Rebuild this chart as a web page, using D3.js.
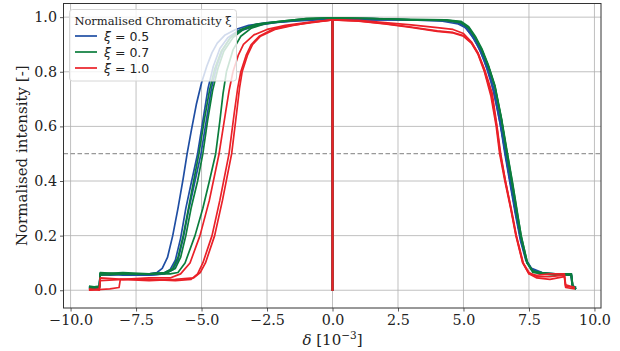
<!DOCTYPE html>
<html><head><meta charset="utf-8">
<script src="https://cdn.jsdelivr.net/npm/d3@7"></script>
<style>
body{margin:0;background:#fff;}
svg{display:block;}
</style></head>
<body>
<svg id="chart" width="620" height="351"></svg>
<script>
// ---- Data ----
const xTicks = [-10, -7.5, -5, -2.5, 0, 2.5, 5, 7.5, 10];
const yTicks = [0, 0.2, 0.4, 0.6, 0.8, 1.0];
const seriesNames = ["ξ = 0.5", "ξ = 0.7", "ξ = 1.0"];
const seriesColors = ["#1f4ea3", "#0b7d3c", "#ea2128"];
const halfLevel = 0.5;

// xi = 0.5 runs
const blueRun1 = [[-9.3,0.012],[-9.0,0.005],[-8.9,0.015],[-8.87,0.06],[-8.5,0.055],[-8.0,0.06],[-7.5,0.055],[-7.0,0.06],[-6.7,0.065],[-6.5,0.08],[-6.3,0.12],[-6.1,0.2],[-5.9,0.3],[-5.7,0.41],[-5.55,0.5],[-5.4,0.58],[-5.2,0.68],[-5.0,0.76],[-4.8,0.82],[-4.6,0.87],[-4.4,0.905],[-4.1,0.935],[-3.7,0.955],[-3.2,0.97],[-2.5,0.98],[-1.5,0.985],[-0.6,0.99],[-0.003,0.995],[0,0.0],[0.003,0.99],[1,0.99],[2,0.99],[3,0.99],[4,0.99],[4.6,0.985],[5.0,0.97],[5.3,0.935],[5.55,0.895],[5.8,0.84],[6.05,0.77],[6.3,0.66],[6.5,0.56],[6.6,0.5],[6.8,0.39],[7.0,0.28],[7.2,0.18],[7.4,0.11],[7.6,0.075],[7.9,0.06],[8.3,0.06],[8.8,0.055],[9.1,0.055],[9.15,0.02],[9.3,0.005]];
const blueRun2 = [[-9.3,0.005],[-8.9,0.01],[-8.87,0.06],[-8.0,0.055],[-7.0,0.055],[-6.5,0.06],[-6.2,0.075],[-6.0,0.11],[-5.8,0.19],[-5.6,0.3],[-5.4,0.39],[-5.15,0.5],[-4.95,0.62],[-4.75,0.74],[-4.55,0.82],[-4.3,0.885],[-4.0,0.925],[-3.6,0.95],[-3.0,0.97],[-2.3,0.98],[-1.2,0.99],[-0.003,0.995],[0,0.0],[0.003,0.995],[1.5,0.995],[3,0.99],[4.2,0.99],[4.8,0.98],[5.1,0.965],[5.4,0.925],[5.65,0.88],[5.9,0.82],[6.15,0.74],[6.4,0.62],[6.6,0.5],[6.8,0.39],[7.0,0.28],[7.2,0.18],[7.4,0.11],[7.6,0.08],[8.0,0.065],[8.5,0.06],[9.0,0.06],[9.12,0.055],[9.17,0.015],[9.3,0.01]];
const blueRun3 = [[-9.3,0.01],[-8.9,0.012],[-8.87,0.055],[-8.0,0.06],[-7.0,0.055],[-6.4,0.06],[-6.1,0.075],[-5.9,0.11],[-5.7,0.19],[-5.5,0.29],[-5.25,0.4],[-5.02,0.5],[-4.82,0.62],[-4.62,0.74],[-4.42,0.82],[-4.2,0.88],[-3.9,0.925],[-3.5,0.95],[-2.9,0.97],[-2.2,0.98],[-1.1,0.99],[-0.003,0.995],[0,0.0],[0.003,0.995],[1.5,0.99],[3,0.99],[4.2,0.985],[4.8,0.975],[5.1,0.96],[5.4,0.92],[5.65,0.875],[5.9,0.81],[6.15,0.73],[6.4,0.61],[6.58,0.5],[6.78,0.39],[6.98,0.28],[7.18,0.18],[7.38,0.11],[7.6,0.075],[8.0,0.06],[8.5,0.06],[9.0,0.055],[9.12,0.06],[9.17,0.01],[9.3,0.005]];

// xi = 0.7 runs
const greenRun1 = [[-9.3,0.015],[-8.9,0.01],[-8.87,0.065],[-8.0,0.06],[-7.0,0.06],[-6.4,0.065],[-6.1,0.08],[-5.9,0.12],[-5.7,0.2],[-5.5,0.3],[-5.3,0.4],[-5.1,0.5],[-4.9,0.62],[-4.7,0.73],[-4.5,0.81],[-4.25,0.875],[-3.9,0.925],[-3.5,0.955],[-2.9,0.975],[-2.0,0.985],[-1.0,0.995],[-0.003,0.997],[0,0.0],[0.003,0.997],[1.5,0.995],[3,0.99],[4.3,0.99],[4.9,0.985],[5.2,0.965],[5.45,0.93],[5.7,0.885],[5.95,0.825],[6.2,0.75],[6.45,0.63],[6.68,0.5],[6.88,0.39],[7.05,0.29],[7.2,0.2],[7.44,0.1],[7.65,0.07],[8.0,0.06],[8.5,0.055],[9.0,0.06],[9.12,0.06],[9.18,0.01],[9.3,0.005]];
const greenRun2 = [[-9.3,0.01],[-8.9,0.015],[-8.87,0.06],[-8.0,0.065],[-7.0,0.06],[-6.3,0.065],[-6.0,0.08],[-5.8,0.12],[-5.6,0.2],[-5.4,0.3],[-5.15,0.4],[-4.95,0.5],[-4.77,0.62],[-4.58,0.73],[-4.38,0.81],[-4.15,0.875],[-3.8,0.925],[-3.4,0.955],[-2.8,0.975],[-2.0,0.985],[-1.0,0.995],[-0.003,0.997],[0,0.0],[0.003,0.997],[1.5,0.995],[3,0.992],[4.3,0.99],[4.9,0.982],[5.2,0.96],[5.45,0.925],[5.7,0.88],[5.95,0.82],[6.2,0.745],[6.45,0.625],[6.65,0.5],[6.85,0.39],[7.02,0.29],[7.18,0.2],[7.42,0.1],[7.65,0.07],[8.0,0.065],[8.5,0.06],[9.0,0.055],[9.1,0.06],[9.16,0.015],[9.3,0.01]];
const greenRun3 = [[-9.3,0.005],[-8.9,0.01],[-8.87,0.055],[-8.0,0.06],[-7.0,0.06],[-6.2,0.06],[-5.9,0.065],[-5.63,0.1],[-5.25,0.2],[-4.95,0.3],[-4.7,0.4],[-4.46,0.5],[-4.3,0.62],[-4.18,0.72],[-4.05,0.8],[-3.8,0.88],[-3.5,0.93],[-3.1,0.96],[-2.6,0.975],[-1.8,0.985],[-0.9,0.993],[-0.003,0.997],[0,0.0],[0.003,0.997],[1.5,0.995],[3,0.99],[4.3,0.988],[4.9,0.98],[5.2,0.96],[5.45,0.925],[5.7,0.88],[5.95,0.82],[6.2,0.745],[6.45,0.625],[6.67,0.5],[6.87,0.39],[7.04,0.29],[7.2,0.2],[7.44,0.1],[7.65,0.065],[8.0,0.06],[8.5,0.06],[9.0,0.06],[9.12,0.055],[9.18,0.01],[9.3,0.005]];

// xi = 1.0 runs
const redRun1 = [[-9.3,0.0],[-8.9,0.005],[-8.87,0.045],[-8.0,0.04],[-7.0,0.045],[-6.2,0.045],[-5.8,0.06],[-5.44,0.1],[-5.06,0.2],[-4.7,0.33],[-4.33,0.5],[-4.1,0.64],[-3.95,0.73],[-3.8,0.8],[-3.6,0.86],[-3.4,0.9],[-3.0,0.935],[-2.5,0.955],[-1.8,0.97],[-1.0,0.98],[-0.003,0.99],[0,0.0],[0.003,0.99],[1,0.988],[2,0.98],[3,0.972],[4,0.962],[4.6,0.955],[5.0,0.94],[5.3,0.91],[5.55,0.87],[5.8,0.81],[6.1,0.72],[6.28,0.6],[6.42,0.5],[6.6,0.4],[6.82,0.3],[7.02,0.2],[7.28,0.1],[7.5,0.065],[7.8,0.05],[8.3,0.05],[8.85,0.055],[8.9,0.015],[9.25,0.01]];
const redRun2 = [[-9.3,0.0],[-8.5,0.005],[-8.15,0.01],[-8.1,0.04],[-7.0,0.04],[-6.0,0.035],[-5.4,0.04],[-5.15,0.06],[-4.95,0.1],[-4.6,0.2],[-4.3,0.33],[-3.95,0.5],[-3.75,0.65],[-3.62,0.74],[-3.5,0.8],[-3.3,0.86],[-3.1,0.9],[-2.8,0.93],[-2.3,0.955],[-1.6,0.97],[-0.8,0.98],[-0.003,0.99],[0,0.0],[0.003,0.99],[1,0.985],[2,0.975],[3,0.962],[4,0.948],[4.6,0.942],[5.0,0.93],[5.3,0.905],[5.55,0.865],[5.8,0.8],[6.05,0.71],[6.25,0.6],[6.38,0.5],[6.58,0.4],[6.8,0.3],[7.0,0.2],[7.26,0.1],[7.5,0.06],[7.8,0.045],[8.3,0.04],[8.85,0.05],[8.9,0.01],[9.25,0.005]];
const redRun3 = [[-9.3,0.005],[-8.9,0.0],[-8.87,0.035],[-8.0,0.04],[-7.0,0.035],[-6.0,0.04],[-5.3,0.045],[-5.05,0.065],[-4.85,0.1],[-4.5,0.2],[-4.2,0.33],[-3.85,0.5],[-3.66,0.65],[-3.55,0.74],[-3.45,0.8],[-3.25,0.86],[-3.05,0.9],[-2.75,0.93],[-2.2,0.955],[-1.5,0.97],[-0.8,0.982],[-0.003,0.99],[0,0.0],[0.003,0.99],[1,0.986],[2,0.976],[3,0.964],[4,0.95],[4.6,0.944],[5.0,0.933],[5.3,0.907],[5.55,0.868],[5.8,0.805],[6.07,0.715],[6.27,0.6],[6.4,0.5],[6.6,0.4],[6.81,0.3],[7.01,0.2],[7.27,0.1],[7.5,0.06],[7.8,0.055],[8.3,0.06],[8.85,0.06],[8.9,0.02],[9.25,0.01]];

const seriesRuns = [
  [blueRun1, blueRun2, blueRun3],
  [greenRun1, greenRun2, greenRun3],
  [redRun1, redRun2, redRun3]
];

// ---- Drawing ----
const svg = d3.select("#chart");
const plot = {left: 63.5, right: 601, top: 3.5, bottom: 308};
const x = d3.scaleLinear().domain([-10.27, 10.25]).range([plot.left, plot.right]);
const y = d3.scaleLinear().domain([-0.065, 1.05]).range([plot.bottom, plot.top]);
const serif = "'DejaVu Serif', serif";

// grid
const grid = svg.append("g").attr("stroke", "#b0b0b0").attr("stroke-width", 0.8);
xTicks.forEach(t => grid.append("line").attr("x1", x(t)).attr("x2", x(t)).attr("y1", plot.top).attr("y2", plot.bottom));
yTicks.forEach(t => grid.append("line").attr("x1", plot.left).attr("x2", plot.right).attr("y1", y(t)).attr("y2", y(t)));

// half-max dashed line
svg.append("line").attr("x1", plot.left).attr("x2", plot.right)
  .attr("y1", y(halfLevel)).attr("y2", y(halfLevel))
  .attr("stroke", "#999").attr("stroke-width", 1.2).attr("stroke-dasharray", "4.5,2.5");

// curves
svg.append("clipPath").attr("id", "clip").append("rect")
  .attr("x", plot.left).attr("y", plot.top).attr("width", plot.right - plot.left).attr("height", plot.bottom - plot.top);
const line = d3.line().x(d => x(d[0])).y(d => y(d[1]));
const curves = svg.append("g").attr("clip-path", "url(#clip)");
seriesRuns.forEach((runs, i) => {
  runs.forEach(run => {
    curves.append("path").datum(run).attr("d", line)
      .attr("fill", "none").attr("stroke", seriesColors[i])
      .attr("stroke-width", 1.7).attr("stroke-linejoin", "round");
  });
});

// axes
const xAxis = d3.axisBottom(x).tickValues(xTicks).tickFormat(d3.format(".1f")).tickSize(3.5).tickPadding(3);
const yAxis = d3.axisLeft(y).tickValues(yTicks).tickFormat(d3.format(".1f")).tickSize(3.5).tickPadding(3);
const gx = svg.append("g").attr("transform", `translate(0,${plot.bottom})`).call(xAxis);
const gy = svg.append("g").attr("transform", `translate(${plot.left},0)`).call(yAxis);
[gx, gy].forEach(g => {
  g.select(".domain").remove();
  g.selectAll("line").attr("stroke", "#333").attr("stroke-width", 0.8);
  g.selectAll("text").attr("font-family", serif).attr("font-size", 14.3).attr("fill", "#222");
});
// frame
svg.append("rect").attr("x", plot.left).attr("y", plot.top)
  .attr("width", plot.right - plot.left).attr("height", plot.bottom - plot.top)
  .attr("fill", "none").attr("stroke", "#333").attr("stroke-width", 1);

// axis labels
svg.append("text").attr("transform", `translate(27,${(plot.top + plot.bottom) / 2}) rotate(-90)`)
  .attr("text-anchor", "middle").attr("font-family", serif).attr("font-size", 15).attr("fill", "#222")
  .text("Normalised intensity [-]");
const xl = svg.append("text").attr("x", x(0)).attr("y", 345).attr("text-anchor", "middle")
  .attr("font-family", serif).attr("font-size", 15).attr("fill", "#222");
xl.append("tspan").attr("font-style", "italic").text("δ");
xl.append("tspan").text(" [10");
xl.append("tspan").attr("font-size", 10.5).attr("dy", -6).text("−3");
xl.append("tspan").attr("dy", 6).text("]");

// legend
const lg = svg.append("g");
lg.append("rect").attr("x", 69.5).attr("y", 9.5).attr("width", 167).attr("height", 71.5).attr("rx", 3)
  .attr("fill", "#fff").attr("fill-opacity", 0.8).attr("stroke", "#d6d6d6").attr("stroke-width", 1);
lg.append("text").attr("x", 153).attr("y", 25).attr("text-anchor", "middle")
  .attr("font-family", serif).attr("font-size", 11.5).attr("fill", "#222").text("Normalised Chromaticity ξ");
seriesNames.forEach((name, i) => {
  const yy = 36 + i * 16;
  lg.append("line").attr("x1", 75).attr("x2", 97).attr("y1", yy).attr("y2", yy)
    .attr("stroke", seriesColors[i]).attr("stroke-width", 1.7);
  const t = lg.append("text").attr("x", 104).attr("y", yy + 4.5)
    .attr("font-family", "'DejaVu Sans', sans-serif").attr("font-size", 12.5).attr("fill", "#222");
  t.append("tspan").attr("font-style", "italic").text("ξ");
  t.append("tspan").text(name.slice(1));
});
</script>
</body></html>
